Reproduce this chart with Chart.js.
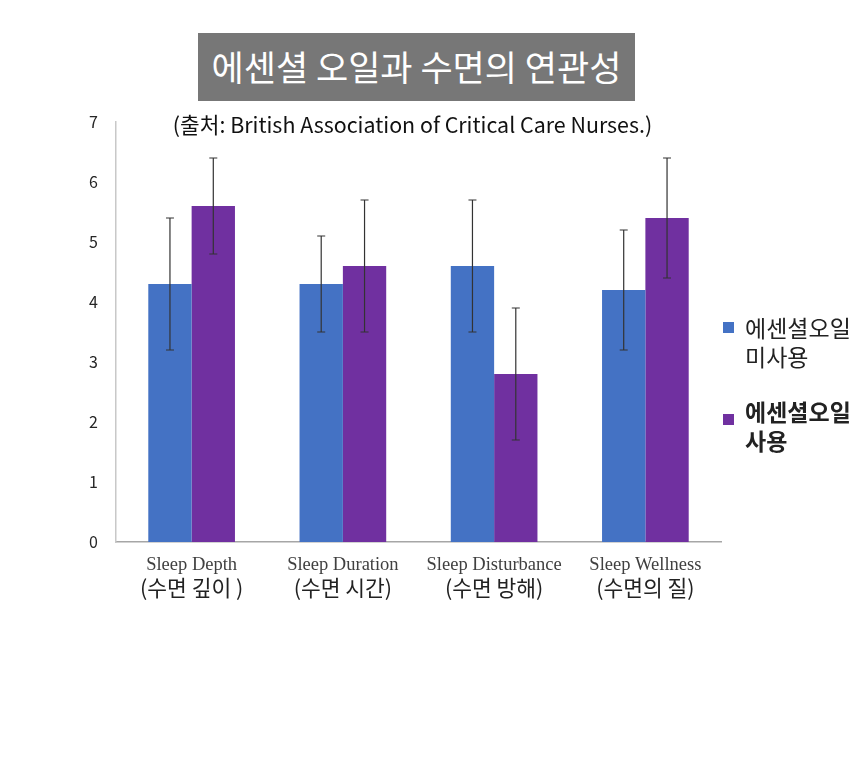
<!DOCTYPE html>
<html>
<head>
<meta charset="utf-8">
<script src="https://cdn.jsdelivr.net/npm/chart.js@4"></script>
<style>
  html, body { margin: 0; padding: 0; background: #fff; }
  #wrap { position: relative; width: 860px; height: 758px; overflow: hidden; }
  #c { position: absolute; left: 0; top: 0; }
  #title { position: absolute; left: 198px; top: 33px; width: 437px; height: 68px; background: #777777;
    color: #fff; font: 35px 'Noto Sans CJK KR', sans-serif; text-align: center; line-height: 66px; }
  #sub { position: absolute; left: 100px; width: 625px; top: 109px; text-align: center;
    font: 21.4px 'Noto Sans CJK KR', sans-serif; color: #111; line-height: 30px; }
  .lg { position: absolute; left: 723px; font: 23px 'Noto Sans CJK KR', sans-serif; color: #222; line-height: 29px; }
  .lg .sw { position: absolute; left: 0; width: 11px; height: 11px; }
  .lg .tx { position: absolute; left: 22px; white-space: nowrap; }
</style>
</head>
<body>
<div id="wrap">
  <canvas id="c" width="860" height="758"></canvas>
  <div id="title">에센셜 오일과 수면의 연관성</div>
  <div id="sub">(출처: British Association of Critical Care Nurses.)</div>
  <div id="legend"></div>
</div>
<script>
var categoriesEn = ['Sleep Depth', 'Sleep Duration', 'Sleep Disturbance', 'Sleep Wellness'];
var categoriesKo = ['(수면 깊이 )', '(수면 시간)', '(수면 방해)', '(수면의 질)'];
var seriesNames = ['에센셜오일 미사용', '에센셜오일 사용'];
var withoutOil = [4.3, 4.3, 4.6, 4.2];
var withoutOilErr = [1.1, 0.8, 1.1, 1.0];
var withOil = [5.6, 4.6, 2.8, 5.4];
var withOilErr = [0.8, 1.1, 1.1, 1.0];
var yTicks = [0, 1, 2, 3, 4, 5, 6, 7];

var colors = ['#4472c4', '#7030a0'];
var errs = [withoutOilErr, withOilErr];

// legend (html, two-line labels)
var lgPos = [{top: 313, sw: 9, bold: false}, {top: 397, sw: 17, bold: true}];
var lg = document.getElementById('legend');
seriesNames.forEach(function(n, i) {
  var d = document.createElement('div');
  d.className = 'lg';
  d.style.top = lgPos[i].top + 'px';
  if (lgPos[i].bold) d.style.fontWeight = 'bold';
  d.innerHTML = '<div class="sw" style="top:' + lgPos[i].sw + 'px;background:' + colors[i] + '"></div>' +
    '<div class="tx">' + n.split(' ').join('<br>') + '</div>';
  lg.appendChild(d);
});

var errorBars = {
  id: 'errorBars',
  afterDatasetsDraw: function(chart) {
    var ctx = chart.ctx, ys = chart.scales.y;
    ctx.save();
    ctx.strokeStyle = '#333';
    ctx.lineWidth = 1.2;
    chart.data.datasets.forEach(function(ds, i) {
      chart.getDatasetMeta(i).data.forEach(function(bar, j) {
        var v = ds.data[j], e = errs[i][j];
        var t = ys.getPixelForValue(v + e), b = ys.getPixelForValue(v - e);
        ctx.beginPath();
        ctx.moveTo(bar.x, t); ctx.lineTo(bar.x, b);
        ctx.moveTo(bar.x - 4, t); ctx.lineTo(bar.x + 4, t);
        ctx.moveTo(bar.x - 4, b); ctx.lineTo(bar.x + 4, b);
        ctx.stroke();
      });
    });
    ctx.restore();
  }
};

var koLabels = {
  id: 'koLabels',
  afterDraw: function(chart) {
    var ctx = chart.ctx, xs = chart.scales.x;
    ctx.save();
    ctx.font = "21.5px 'Noto Sans CJK KR'";
    ctx.fillStyle = '#222';
    ctx.textAlign = 'center';
    ctx.textBaseline = 'middle';
    categoriesKo.forEach(function(t, i) {
      ctx.fillText(t, xs.getPixelForTick(i), 588);
    });
    ctx.restore();
  }
};

new Chart(document.getElementById('c'), {
  type: 'bar',
  data: {
    labels: categoriesEn,
    datasets: [
      {label: seriesNames[0], data: withoutOil, backgroundColor: colors[0]},
      {label: seriesNames[1], data: withOil, backgroundColor: colors[1]}
    ]
  },
  options: {
    responsive: false,
    animation: false,
    layout: {padding: {top: 122, left: 0, right: 139, bottom: 0}},
    datasets: {bar: {categoryPercentage: 0.573, barPercentage: 1}},
    plugins: {legend: {display: false}, tooltip: {enabled: false}},
    scales: {
      x: {
        grid: {display: false, drawTicks: false},
        border: {display: true, color: '#a6a6a6', width: 1.5},
        ticks: {color: '#404040', font: {family: "'Liberation Serif', serif", size: 18.5}, padding: 12, maxRotation: 0},
        afterFit: function(s) { s.height = 216; }
      },
      y: {
        min: 0, max: 7,
        afterBuildTicks: function(s) { s.ticks = yTicks.map(function(v) { return {value: v}; }); },
        grid: {display: false, drawTicks: false},
        border: {display: true, color: '#c8c8c8', width: 1.5},
        ticks: {color: '#262626', font: {family: "'Noto Sans CJK KR', sans-serif", size: 16}, padding: 18},
        afterFit: function(s) { s.width = 116; }
      }
    }
  },
  plugins: [errorBars, koLabels]
});
</script>
</body>
</html>
